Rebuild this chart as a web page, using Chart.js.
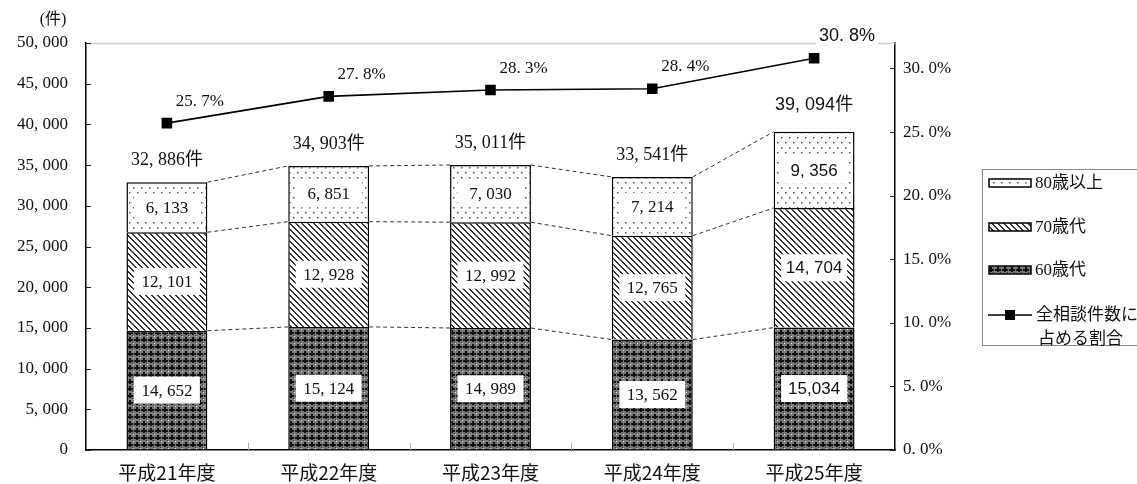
<!DOCTYPE html>
<html>
<head>
<meta charset="utf-8">
<script src="https://cdn.jsdelivr.net/npm/chart.js@4.4.0/dist/chart.umd.min.js"></script>
<style>
  html, body { margin: 0; padding: 0; background: #fff; }
</style>
</head>
<body>
<canvas id="chart" width="1137" height="484"></canvas>
<script>
// data
const categories = ["平成21年度", "平成22年度", "平成23年度", "平成24年度", "平成25年度"];
const age60 = [14652, 15124, 14989, 13562, 15034];
const age70 = [12101, 12928, 12992, 12765, 14704];
const age80 = [6133, 6851, 7030, 7214, 9356];
const totals = [32886, 34903, 35011, 33541, 39094];
const shareOfAll = [25.7, 27.8, 28.3, 28.4, 30.8];
const seriesNames = ["60歳代", "70歳代", "80歳以上", "全相談件数に占める割合"];
const countAxis = { min: 0, max: 50000, step: 5000 };
const shareAxis = { min: 0, max: 32, step: 5 };

const SERIF = "'Liberation Serif', 'Noto Sans CJK JP', serif";
const SANS = "'Liberation Sans', 'Noto Sans CJK JP', sans-serif";

function fmtCount(v) {
  return v.toLocaleString("en-US").replace(",", ", ");
}
function fmtShare(v) {
  return v.toFixed(1).replace(".", ". ") + "%";
}

// fill patterns for the stacked bars
function makePattern(w, h, draw) {
  const c = document.createElement("canvas");
  c.width = w;
  c.height = h;
  const g = c.getContext("2d");
  draw(g);
  return g.createPattern(c, "repeat");
}
const pat60 = makePattern(7, 7, (g) => {
  g.fillStyle = "#7a7a7a";
  g.fillRect(0, 0, 7, 7);
  g.fillStyle = "#111";
  g.fillRect(3, 1, 2, 5);
  g.fillRect(1, 3, 6, 2);
  g.fillStyle = "#e8e8e8";
  g.fillRect(0, 0, 1, 1);
  g.fillStyle = "#333";
  g.fillRect(6, 6, 1, 1);
});
const pat70 = makePattern(6, 6, (g) => {
  g.fillStyle = "#fff";
  g.fillRect(0, 0, 6, 6);
  g.fillStyle = "#333";
  for (let y = 0; y < 6; y++) {
    for (let x = 0; x < 6; x++) {
      const d = (((x - y) % 6) + 6) % 6;
      if (d < 2) g.fillRect(x, y, 1, 1);
    }
  }
});
const pat80 = makePattern(8, 10, (g) => {
  g.fillStyle = "#fff";
  g.fillRect(0, 0, 8, 10);
  g.fillStyle = "#555";
  g.fillRect(1, 2, 1.5, 1.5);
  g.fillRect(5, 7, 1.5, 1.5);
});

// light top frame, inside tick marks and dashed connectors
const framePlugin = {
  id: "frame",
  beforeDatasetsDraw(chart) {
    const { ctx, chartArea: a, scales } = chart;
    ctx.save();
    ctx.strokeStyle = "#d0d0d0";
    ctx.lineWidth = 1.5;
    ctx.beginPath();
    ctx.moveTo(a.left, a.top + 0.5);
    ctx.lineTo(a.right, a.top + 0.5);
    ctx.stroke();

    ctx.strokeStyle = "#222";
    ctx.lineWidth = 1;
    scales.y.ticks.forEach((t) => {
      const py = Math.round(scales.y.getPixelForValue(t.value)) + 0.5;
      ctx.beginPath();
      ctx.moveTo(a.left, py);
      ctx.lineTo(a.left + 5, py);
      ctx.stroke();
    });
    scales.y1.ticks.forEach((t) => {
      const py = Math.round(scales.y1.getPixelForValue(t.value)) + 0.5;
      ctx.beginPath();
      ctx.moveTo(a.right - 5, py);
      ctx.lineTo(a.right, py);
      ctx.stroke();
    });
    ctx.strokeStyle = "#aaa";
    for (let i = 1; i < categories.length; i++) {
      const px = Math.round((scales.x.getPixelForValue(i - 1) + scales.x.getPixelForValue(i)) / 2) + 0.5;
      ctx.beginPath();
      ctx.moveTo(px, a.bottom - 7);
      ctx.lineTo(px, a.bottom);
      ctx.stroke();
    }

    // dashed lines joining the segment tops of neighbouring bars
    ctx.strokeStyle = "#333";
    ctx.setLineDash([4, 3]);
    [0, 1, 2].forEach((di) => {
      const bars = chart.getDatasetMeta(di).data;
      for (let i = 0; i < bars.length - 1; i++) {
        const a1 = bars[i], b1 = bars[i + 1];
        ctx.beginPath();
        ctx.moveTo(a1.x + a1.width / 2, a1.y);
        ctx.lineTo(b1.x - b1.width / 2, b1.y);
        ctx.stroke();
      }
    });
    ctx.restore();
  },
};

function boxedText(ctx, text, x, y, font, bw, bh) {
  ctx.font = font;
  const w = bw || ctx.measureText(text).width + 6;
  const h = bh || 20;
  ctx.fillStyle = "#fff";
  ctx.fillRect(x - w / 2, y - h / 2, w, h);
  ctx.fillStyle = "#111";
  ctx.fillText(text, x, y + 1);
}

const labelPlugin = {
  id: "labels",
  afterDatasetsDraw(chart) {
    const { ctx } = chart;
    const last = categories.length - 1;
    ctx.save();
    ctx.textAlign = "center";
    ctx.textBaseline = "middle";

    [0, 1, 2].forEach((di) => {
      const vals = chart.data.datasets[di].data;
      chart.getDatasetMeta(di).data.forEach((bar, i) => {
        const cy = (bar.y + bar.base) / 2;
        let txt = fmtCount(vals[i]);
        let font = "17px " + SERIF;
        if (i === last) {
          font = "17px " + SANS;
          if (di === 0) txt = vals[i].toLocaleString("en-US");
        }
        boxedText(ctx, txt, bar.x, cy, font, 66, 27);
      });
    });

    const tops = chart.getDatasetMeta(2).data;
    tops.forEach((bar, i) => {
      const font = i === last ? "18px " + SANS : "18px " + SERIF;
      const dy = i === last ? 27 : 22;
      ctx.font = font;
      ctx.fillStyle = "#111";
      ctx.fillText(fmtCount(totals[i]) + "件", bar.x, bar.y - dy);
    });

    chart.getDatasetMeta(3).data.forEach((pt, i) => {
      const font = i === last ? "18px " + SANS : "17px " + SERIF;
      boxedText(ctx, fmtShare(shareOfAll[i]), pt.x + 33, pt.y - 23, font, null, 22);
    });

    ctx.font = "16px " + SERIF;
    ctx.fillStyle = "#111";
    ctx.fillText("(件)", 53, 20);
    ctx.restore();
  },
};

const legendPlugin = {
  id: "legendBox",
  afterDraw(chart) {
    const { ctx } = chart;
    const ds = chart.data.datasets;
    ctx.save();
    ctx.strokeStyle = "#8a8a8a";
    ctx.lineWidth = 1;
    ctx.strokeRect(982.5, 169.5, 170, 176);

    ctx.textAlign = "left";
    ctx.textBaseline = "middle";
    ctx.font = "17px " + SERIF;
    const rows = [
      { di: 2, y: 183 },
      { di: 1, y: 227 },
      { di: 0, y: 270 },
    ];
    rows.forEach((r) => {
      ctx.fillStyle = ds[r.di].backgroundColor;
      ctx.fillRect(989, r.y - 4, 42, 8);
      ctx.strokeStyle = "#000";
      ctx.lineWidth = 1.5;
      ctx.strokeRect(989, r.y - 4, 42, 8);
      ctx.fillStyle = "#111";
      ctx.fillText(ds[r.di].label, 1035, r.y + 1);
    });

    const ly = 315;
    ctx.strokeStyle = "#000";
    ctx.lineWidth = 1.5;
    ctx.beginPath();
    ctx.moveTo(988, ly);
    ctx.lineTo(1032, ly);
    ctx.stroke();
    ctx.fillStyle = "#000";
    ctx.fillRect(1005, ly - 5, 10, 10);
    ctx.fillStyle = "#111";
    const name = ds[3].label;
    ctx.fillText(name.slice(0, 6), 1036, ly + 1);
    ctx.fillText(name.slice(6), 1038, 340);
    ctx.restore();
  },
};

new Chart(document.getElementById("chart"), {
  data: {
    labels: categories,
    datasets: [
      { type: "bar", label: seriesNames[0], data: age60, backgroundColor: pat60, borderColor: "#000", borderWidth: 1.5, yAxisID: "y", order: 1 },
      { type: "bar", label: seriesNames[1], data: age70, backgroundColor: pat70, borderColor: "#000", borderWidth: 1.5, yAxisID: "y", order: 1 },
      { type: "bar", label: seriesNames[2], data: age80, backgroundColor: pat80, borderColor: "#000", borderWidth: 1.5, yAxisID: "y", order: 1 },
      {
        type: "line", label: seriesNames[3], data: shareOfAll, yAxisID: "y1", order: 0,
        borderColor: "#000", borderWidth: 1.6, backgroundColor: "#000",
        pointStyle: "rect", pointRadius: 7.5, pointBorderWidth: 0, tension: 0,
      },
    ],
  },
  options: {
    responsive: false,
    animation: false,
    devicePixelRatio: 1,
    layout: { padding: { top: 43, left: 0, right: 0, bottom: 0 } },
    plugins: { legend: { display: false }, tooltip: { enabled: false } },
    datasets: { bar: { barPercentage: 0.5, categoryPercentage: 1 } },
    scales: {
      x: {
        stacked: true,
        grid: { drawOnChartArea: false, drawTicks: false },
        border: { color: "#000", width: 1.5 },
        ticks: { color: "#111", font: { family: "'Noto Sans CJK JP', sans-serif", size: 19 }, padding: 11 },
        afterFit(s) { s.height = 34; },
      },
      y: {
        stacked: true,
        position: "left",
        min: countAxis.min,
        max: countAxis.max,
        grid: { drawOnChartArea: false, drawTicks: false },
        border: { color: "#000", width: 1.5 },
        ticks: { stepSize: countAxis.step, color: "#111", font: { family: SERIF, size: 17 }, padding: 18, callback: (v) => fmtCount(v) },
        afterFit(s) { s.width = 86; },
      },
      y1: {
        position: "right",
        min: shareAxis.min,
        max: shareAxis.max,
        grid: { drawOnChartArea: false, drawTicks: false },
        border: { color: "#000", width: 1.5 },
        ticks: { stepSize: shareAxis.step, color: "#111", font: { family: SERIF, size: 17 }, padding: 8, callback: (v) => fmtShare(v) },
        afterBuildTicks(s) { s.ticks = s.ticks.filter((t) => t.value % shareAxis.step === 0); },
        afterFit(s) { s.width = 242; },
      },
    },
  },
  plugins: [framePlugin, labelPlugin, legendPlugin],
});
</script>
</body>
</html>
